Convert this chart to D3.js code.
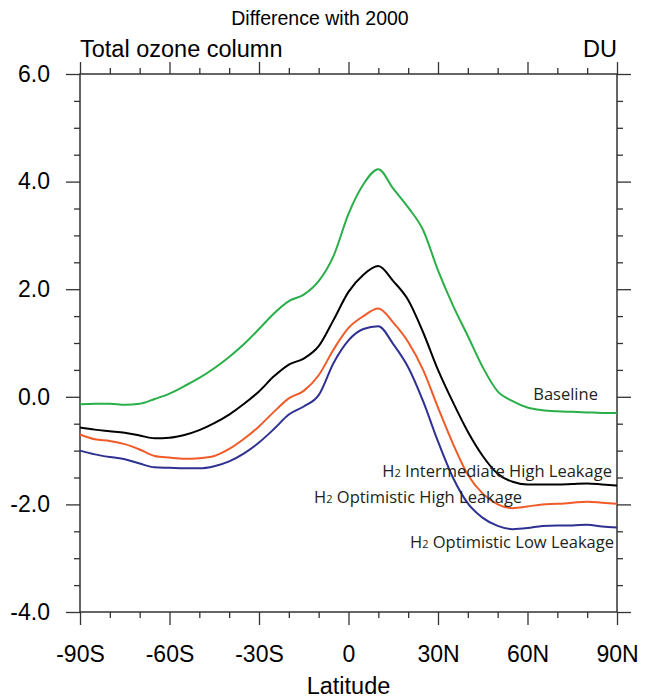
<!DOCTYPE html>
<html>
<head>
<meta charset="utf-8">
<script src="https://cdn.jsdelivr.net/npm/d3@7"></script>
<style>
  body { margin: 0; background: #fff; }
  svg { display: block; }
  .axis text { font-family: "Liberation Sans", Arial, sans-serif; fill: #000; }
</style>
</head>
<body>
<div id="chart"></div>
<script>
// Latitudes (degrees, S negative)
const lat = [-90, -85, -80, -75, -70, -65, -60, -55, -50, -45, -40, -35, -30, -25, -20, -15, -10, -5,
             0, 5, 10, 15, 20, 25, 30, 35, 40, 45, 50, 55, 60, 65, 70, 75, 80, 85, 90];

// Ozone column difference with 2000 (DU)
const baseline = [-0.14, -0.13, -0.13, -0.15, -0.13, -0.04, 0.06, 0.2, 0.35, 0.53, 0.74, 0.98, 1.26, 1.55, 1.78, 1.9, 2.15, 2.62,
                  3.4, 3.95, 4.23, 3.87, 3.52, 3.1, 2.35, 1.7, 1.13, 0.55, 0.1, -0.08, -0.2, -0.25, -0.27, -0.28, -0.29, -0.3, -0.3];
const interHigh = [-0.57, -0.61, -0.64, -0.67, -0.72, -0.77, -0.76, -0.71, -0.62, -0.49, -0.33, -0.13, 0.1, 0.38, 0.6, 0.71, 0.94, 1.43,
                   1.95, 2.27, 2.43, 2.15, 1.8, 1.2, 0.5, -0.1, -0.65, -1.1, -1.43, -1.58, -1.63, -1.63, -1.63, -1.62, -1.61, -1.63, -1.65];
const optHigh = [-0.7, -0.79, -0.82, -0.88, -0.98, -1.1, -1.13, -1.15, -1.14, -1.1, -0.97, -0.78, -0.55, -0.28, -0.03, 0.11, 0.4, 0.88,
                 1.28, 1.5, 1.64, 1.38, 1.02, 0.5, -0.2, -0.87, -1.45, -1.8, -2.0, -2.07, -2.04, -2.0, -1.99, -1.97, -1.95, -1.97, -1.99];
const optLow = [-1.0, -1.07, -1.12, -1.16, -1.24, -1.31, -1.32, -1.33, -1.33, -1.29, -1.2, -1.05, -0.85, -0.6, -0.33, -0.18, 0.03, 0.63,
                1.05, 1.26, 1.31, 0.98, 0.55, -0.08, -0.83, -1.5, -1.98, -2.25, -2.4, -2.46, -2.44, -2.4, -2.39, -2.39, -2.38, -2.41, -2.43];

// Tick labels
const xTicks = [-90, -60, -30, 0, 30, 60, 90];
const xTickLabels = ["-90S", "-60S", "-30S", "0", "30N", "60N", "90N"];
const yTicks = [-4, -2, 0, 2, 4, 6];

// Series: name, values, colour, label anchor (lat, value)
const series = [
  { name: "Baseline", values: baseline, color: "#2aae48", at: [83.6, -0.06], sub: false },
  { name: " Intermediate High Leakage", values: interHigh, color: "#000000", at: [88.3, -1.49], sub: true },
  { name: " Optimistic High Leakage", values: optHigh, color: "#f15a29", at: [58.2, -1.97], sub: true },
  { name: " Optimistic Low Leakage", values: optLow, color: "#2e3192", at: [89, -2.81], sub: true }
];

const W = 651, H = 699;
const margin = { top: 74, right: 34, bottom: 87, left: 80 };

const svg = d3.select("#chart").append("svg")
    .attr("width", W)
    .attr("height", H);

const x = d3.scaleLinear().domain([-90, 90]).range([margin.left, W - margin.right]);
const y = d3.scaleLinear().domain([-4, 6]).range([H - margin.bottom, margin.top]);

const minorX = d3.range(-90, 91, 10).filter(v => v % 30 !== 0);
const minorY = d3.range(-4, 6.01, 0.5).filter(v => Math.abs(v % 2) > 0.01);

// Minor ticks
function minorAxis(axis, vals) {
  return axis.tickValues(vals).tickSize(6).tickFormat("").tickSizeOuter(0);
}
svg.append("g").attr("class", "axis").attr("transform", `translate(0,${y(-4)})`)
    .call(minorAxis(d3.axisBottom(x), minorX));
svg.append("g").attr("class", "axis").attr("transform", `translate(0,${y(6)})`)
    .call(minorAxis(d3.axisTop(x), minorX));
svg.append("g").attr("class", "axis").attr("transform", `translate(${x(-90)},0)`)
    .call(minorAxis(d3.axisLeft(y), minorY));
svg.append("g").attr("class", "axis").attr("transform", `translate(${x(90)},0)`)
    .call(minorAxis(d3.axisRight(y), minorY));

// Major ticks
svg.append("g").attr("class", "axis").attr("transform", `translate(0,${y(-4)})`)
    .call(d3.axisBottom(x).tickValues(xTicks).tickSize(13).tickSizeOuter(0).tickPadding(21)
      .tickFormat((d, i) => xTickLabels[i]))
    .selectAll("text").style("font-size", "23px");
svg.append("g").attr("class", "axis").attr("transform", `translate(0,${y(6)})`)
    .call(d3.axisTop(x).tickValues(xTicks).tickSize(12).tickSizeOuter(0).tickFormat(""));
svg.append("g").attr("class", "axis").attr("transform", `translate(${x(-90)},0)`)
    .call(d3.axisLeft(y).tickValues(yTicks).tickSize(14).tickSizeOuter(0).tickPadding(16)
      .tickFormat(d => d3.format(".1f")(d).replace("\u2212", "-")))
    .selectAll("text").style("font-size", "23px");
svg.append("g").attr("class", "axis").attr("transform", `translate(${x(90)},0)`)
    .call(d3.axisRight(y).tickValues(yTicks).tickSize(14).tickSizeOuter(0).tickFormat(""));

svg.selectAll(".axis .domain").remove();
svg.selectAll(".axis line").attr("stroke", "#333").attr("stroke-width", 1.3);

// Frame
svg.append("rect")
    .attr("x", x(-90)).attr("y", y(6))
    .attr("width", x(90) - x(-90)).attr("height", y(-4) - y(6))
    .attr("fill", "none").attr("stroke", "#333").attr("stroke-width", 1.5);

// Lines
const line = d3.line()
    .x((d, i) => x(lat[i]))
    .y(d => y(d))
    .curve(d3.curveMonotoneX);

svg.append("g").selectAll("path")
  .data(series)
  .join("path")
    .attr("d", d => line(d.values))
    .attr("fill", "none")
    .attr("stroke", d => d.color)
    .attr("stroke-width", 2);

// Line labels
const labels = svg.append("g")
    .attr("font-family", "'Open Sans', 'Noto Sans', sans-serif")
    .attr("font-size", "16.5px")
    .attr("fill", "#231f20")
    .attr("text-anchor", "end");

series.forEach(s => {
  const t = labels.append("text").attr("x", x(s.at[0])).attr("y", y(s.at[1]));
  if (s.sub) {
    t.append("tspan").text("H");
    t.append("tspan").attr("font-size", "11px").text("2");
  }
  t.append("tspan").text(s.name);
});

// Titles
svg.append("text")
    .attr("x", 320).attr("y", 25)
    .attr("text-anchor", "middle")
    .attr("font-family", "'Liberation Sans', Arial, sans-serif")
    .attr("font-size", "19.5px")
    .text("Difference with 2000");

svg.append("text")
    .attr("x", x(-90)).attr("y", 57)
    .attr("font-family", "'Liberation Sans', Arial, sans-serif")
    .attr("font-size", "23.5px")
    .text("Total ozone column");

svg.append("text")
    .attr("x", x(90)).attr("y", 57)
    .attr("text-anchor", "end")
    .attr("font-family", "'Liberation Sans', Arial, sans-serif")
    .attr("font-size", "23.5px")
    .text("DU");

svg.append("text")
    .attr("x", x(0)).attr("y", 694)
    .attr("text-anchor", "middle")
    .attr("font-family", "'Liberation Sans', Arial, sans-serif")
    .attr("font-size", "23.5px")
    .text("Latitude");
</script>
</body>
</html>
